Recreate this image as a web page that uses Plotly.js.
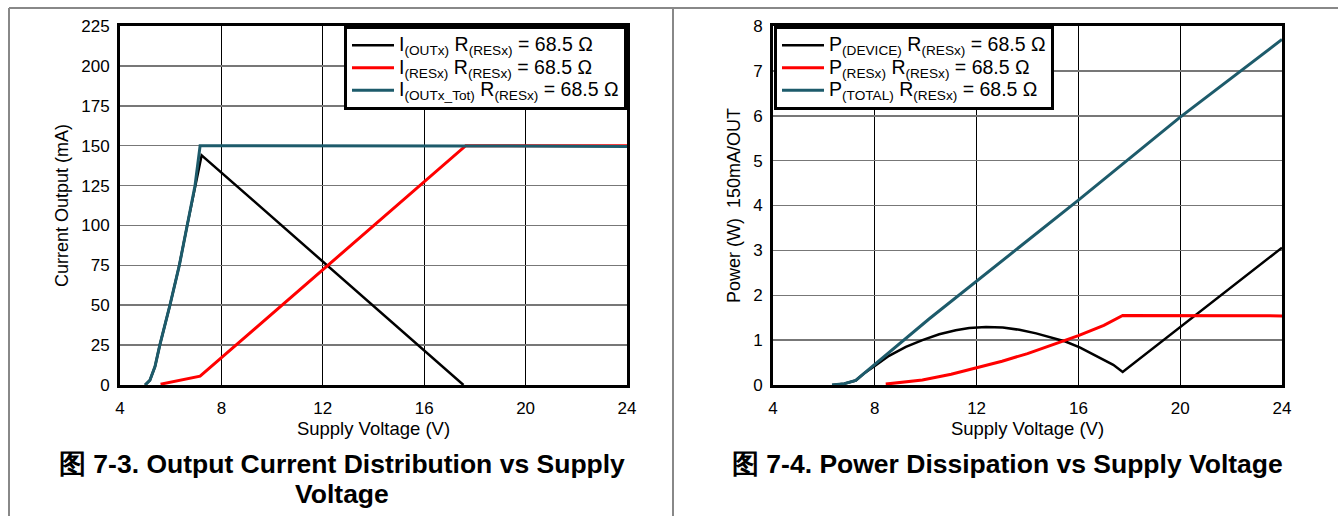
<!DOCTYPE html>
<html>
<head>
<meta charset="utf-8">
<script src="https://cdn.plot.ly/plotly-3.0.1.min.js"></script>
<style>
html,body{margin:0;padding:0;background:#fff;}
#chart{width:1338px;height:516px;}
</style>
</head>
<body>
<div id="chart"></div>
<script>
// ---- Figure 7-3 : Output current distribution (mA) vs supply voltage (V)
const ioutV   = [4.99, 5.18, 5.38, 5.57, 5.97, 6.34, 6.65, 6.96, 7.22, 17.55];
const ioutI   = [0, 3, 11.5, 25, 50, 75, 100, 125, 144, 0];
const iresV   = [5.6, 7.16, 17.64, 24];
const iresI   = [0.5, 5.5, 150, 150];
const itotV   = [4.99, 5.18, 5.38, 5.57, 5.97, 6.34, 6.65, 6.96, 7.16, 10, 14, 18, 24];
const itotI   = [0, 3, 11.5, 25, 50, 75, 100, 125, 150, 150, 150, 149.8, 149.5];

// ---- Figure 7-4 : Power dissipation (W) vs supply voltage (V)
const pdevV   = [6.32, 6.8, 7.25, 7.6, 8.04, 8.56, 9.22, 9.87, 10.53, 11.18, 11.71, 12.37, 13.03, 13.68, 14.34, 15.0, 15.49, 16.05, 16.71, 17.37, 17.74, 24];
const pdevP   = [0, 0.03, 0.1, 0.27, 0.44, 0.65, 0.85, 1.0, 1.13, 1.22, 1.27, 1.29, 1.28, 1.23, 1.15, 1.05, 0.97, 0.84, 0.65, 0.45, 0.29, 3.06];
const presV   = [8.43, 9, 9.87, 11, 12, 13, 14, 15, 16, 17, 17.74, 24];
const presP   = [0.02, 0.05, 0.11, 0.24, 0.38, 0.53, 0.7, 0.9, 1.1, 1.33, 1.55, 1.54];
const ptotV   = [6.32, 6.8, 7.25, 10.13, 16, 20, 24];
const ptotP   = [0, 0.03, 0.1, 1.47, 4.12, 5.97, 7.7];

const xTicks = [4, 8, 12, 16, 20, 24];

const LEG = s => '<span style="font-size:19.5px">' + s + '</span>';
const names1 = [
  'I<sub>(OUTx)</sub> R<sub>(RESx)</sub> = 68.5 Ω',
  'I<sub>(RESx)</sub> R<sub>(RESx)</sub> = 68.5 Ω',
  'I<sub>(OUTx_Tot)</sub> R<sub>(RESx)</sub> = 68.5 Ω'
];
const names2 = [
  'P<sub>(DEVICE)</sub> R<sub>(RESx)</sub> = 68.5 Ω',
  'P<sub>(RESx)</sub> R<sub>(RESx)</sub> = 68.5 Ω',
  'P<sub>(TOTAL)</sub> R<sub>(RESx)</sub> = 68.5 Ω'
];

const BLACK = '#000000', RED = '#ff0000', TEAL = '#1d5b6b';
const FONT = '"Liberation Sans", Arial, Helvetica, sans-serif';

const W = 1338, H = 516;
const px = v => v / W;
const py = v => 1 - v / H;

const traces = [
  {x: ioutV, y: ioutI, name: LEG(names1[0]), mode: 'lines', line: {color: BLACK, width: 2.5}, xaxis: 'x', yaxis: 'y', legend: 'legend'},
  {x: iresV, y: iresI, name: LEG(names1[1]), mode: 'lines', line: {color: RED, width: 3}, xaxis: 'x', yaxis: 'y', legend: 'legend'},
  {x: itotV, y: itotI, name: LEG(names1[2]), mode: 'lines', line: {color: TEAL, width: 3}, xaxis: 'x', yaxis: 'y', legend: 'legend'},
  {x: pdevV, y: pdevP, name: LEG(names2[0]), mode: 'lines', line: {color: BLACK, width: 2.5}, xaxis: 'x2', yaxis: 'y2', legend: 'legend2'},
  {x: presV, y: presP, name: LEG(names2[1]), mode: 'lines', line: {color: RED, width: 3}, xaxis: 'x2', yaxis: 'y2', legend: 'legend2'},
  {x: ptotV, y: ptotP, name: LEG(names2[2]), mode: 'lines', line: {color: TEAL, width: 3}, xaxis: 'x2', yaxis: 'y2', legend: 'legend2'}
];

const axisCommon = {
  showline: true, mirror: true, linecolor: '#000', linewidth: 3,
  zeroline: false, ticks: '', showgrid: true,
  tickfont: {family: FONT, size: 17, color: '#000'},
  fixedrange: true
};
const xCommon = Object.assign({}, axisCommon, {
  range: [4, 24], tickvals: xTicks, gridcolor: '#000', gridwidth: 1,
  ticklabelstandoff: 6,
  title: {text: 'Supply Voltage (V)', font: {family: FONT, size: 18.5, color: '#000'}, standoff: 4}
});
const yCommon = Object.assign({}, axisCommon, {
  gridcolor: '#777', gridwidth: 1.5, ticklabelstandoff: 4
});

const legendCommon = {
  bgcolor: '#fff', bordercolor: '#000', borderwidth: 3,
  font: {family: FONT, size: 15, color: '#000'},
  itemwidth: 42,
  yanchor: 'top', tracegroupgap: 0, itemclick: false, itemdoubleclick: false
};

const TITLE = s => '<span style="font-size:26.5px">' + s + '</span>';

const layout = {
  width: W, height: H,
  margin: {l: 0, r: 0, t: 0, b: 0},
  paper_bgcolor: '#fff', plot_bgcolor: '#fff',
  font: {family: FONT, color: '#000'},
  showlegend: true,
  xaxis: Object.assign({}, xCommon, {domain: [px(120), px(627)], anchor: 'y'}),
  yaxis: Object.assign({}, yCommon, {domain: [py(385), py(26)], anchor: 'x', range: [0, 225], dtick: 25,
    title: {text: 'Current Output (mA)', font: {family: FONT, size: 18, color: '#000'}, standoff: 8}}),
  xaxis2: Object.assign({}, xCommon, {domain: [px(773), px(1282)], anchor: 'y2'}),
  yaxis2: Object.assign({}, yCommon, {domain: [py(385), py(26)], anchor: 'x2', range: [0, 8], dtick: 1,
    title: {text: 'Power (W)  150mA/OUT', font: {family: FONT, size: 18, color: '#000'}, standoff: 8}}),
  legend: Object.assign({}, legendCommon, {x: px(627), xanchor: 'right', y: py(26)}),
  legend2: Object.assign({}, legendCommon, {x: px(774), xanchor: 'left', y: py(26)}),
  shapes: [
    {type: 'line', xref: 'paper', yref: 'paper', x0: px(9), x1: 1, y0: py(8), y1: py(8), line: {color: '#888', width: 2}},
    {type: 'line', xref: 'paper', yref: 'paper', x0: px(9), x1: px(9), y0: py(8), y1: 0, line: {color: '#888', width: 2}},
    {type: 'line', xref: 'paper', yref: 'paper', x0: px(673), x1: px(673), y0: py(8), y1: 0, line: {color: '#888', width: 2}}
  ],
  annotations: [
    {xref: 'paper', yref: 'paper', x: px(342), y: py(447), xanchor: 'center', yanchor: 'top', showarrow: false,
     align: 'center',
     text: '<b>' + TITLE('图 7-3. Output Current Distribution vs Supply') + '<br>' + TITLE('Voltage') + '</b>',
     font: {family: FONT, size: 23, color: '#000'}},
    {xref: 'paper', yref: 'paper', x: px(1007), y: py(447), xanchor: 'center', yanchor: 'top', showarrow: false,
     text: '<b>' + TITLE('图 7-4. Power Dissipation vs Supply Voltage') + '</b>',
     font: {family: FONT, size: 23, color: '#000'}}
  ]
};

Plotly.newPlot('chart', traces, layout, {displayModeBar: false, staticPlot: true});
</script>
</body>
</html>
